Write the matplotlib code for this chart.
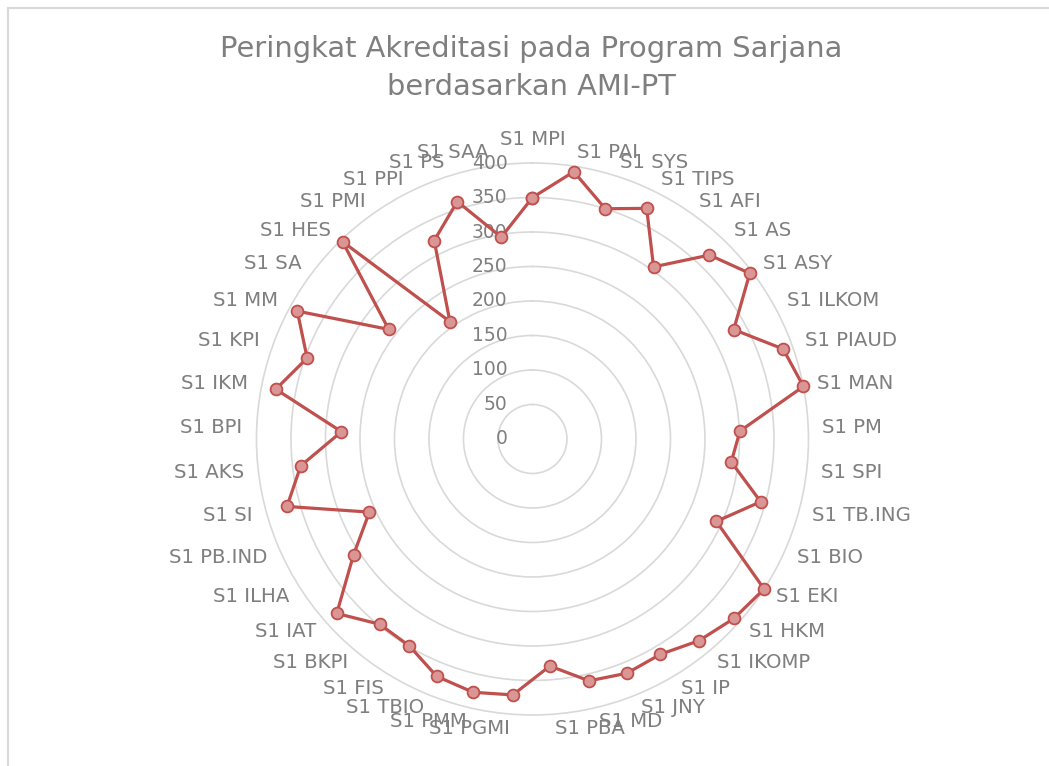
import numpy as np
import matplotlib
matplotlib.use("Agg")
import matplotlib.pyplot as plt
from matplotlib.transforms import offset_copy
from matplotlib.lines import Line2D

# kategori (searah jarum jam mulai dari atas)
prodi = ["S1 MPI", "S1 PAI", "S1 SYS", "S1 TIPS", "S1 AFI", "S1 AS", "S1 ASY",
         "S1 ILKOM", "S1 PIAUD", "S1 MAN", "S1 PM", "S1 SPI", "S1 TB.ING", "S1 BIO",
         "S1 EKI", "S1 HKM", "S1 IKOMP", "S1 IP", "S1 JNY", "S1 MD", "S1 PBA",
         "S1 PGMI", "S1 PMM", "S1 TBIO", "S1 FIS", "S1 BKPI", "S1 IAT", "S1 ILHA",
         "S1 PB.IND", "S1 SI", "S1 AKS", "S1 BPI", "S1 IKM", "S1 KPI", "S1 MM",
         "S1 SA", "S1 HES", "S1 PMI", "S1 PPI", "S1 PS", "S1 SAA"]

nilai = [350, 392, 350, 373, 305, 370, 396, 332, 386, 400, 301, 290, 343, 292,
         400, 391, 379, 363, 366, 360, 330, 372, 377, 371, 349, 348, 380, 309,
         259, 369, 338, 277, 379, 347, 388, 262, 397, 208, 321, 361, 296]

skala = [0, 50, 100, 150, 200, 250, 300, 350, 400]

judul = "Peringkat Akreditasi pada Program Sarjana\nberdasarkan AMI-PT"

abu = "#7f7f7f"
merah = "#c0504d"

fig = plt.figure(figsize=(10.49, 7.66), dpi=100)
ax = fig.add_axes([0.2445, 0.0666, 0.5262, 0.7206], projection="polar")
ax.set_theta_zero_location("N")
ax.set_theta_direction(-1)

n = len(prodi)
sudut = np.linspace(0, 2 * np.pi, n, endpoint=False)

ax.set_ylim(0, 400)
ax.set_yticks(skala)
ax.set_yticklabels([])
ax.set_xticks([])
ax.yaxis.grid(True, color="#d9d9d9", lw=1.2)
for g in ax.yaxis.get_gridlines():
    g.set_clip_on(False)
ax.xaxis.grid(False)
ax.spines["polar"].set_visible(False)

# garis data (ditutup kembali ke titik awal)
th = np.append(sudut, sudut[0])
r = np.append(nilai, nilai[0])
ax.plot(th, r, color=merah, lw=2.3, marker="o", ms=8.5,
        mfc="#d99694", mec=merah, mew=1.3, zorder=5, clip_on=False)

# label skala di sebelah kiri sumbu atas
for v in skala:
    tr = offset_copy(ax.transData, fig=fig, x=-25, y=0, units="dots")
    ax.text(0, v, str(v), transform=tr, ha="right", va="center",
            fontsize=13.5, color=abu, zorder=2)

# label kategori di luar lingkaran
jarak = 14
for a, lab in zip(sudut, prodi):
    dx = jarak * np.sin(a)
    dy = jarak * np.cos(a)
    tr = offset_copy(ax.transData, fig=fig, x=dx, y=dy, units="dots")
    if np.isclose(a, 0):
        ha, va = "center", "bottom"
    elif a < np.pi:
        ha, va = "left", "center"
    else:
        ha, va = "right", "center"
    ax.text(a, 400, lab, transform=tr, ha=ha, va=va, fontsize=14.2,
            color=abu, clip_on=False)

fig.text(531.5 / 1049, 1 - 68 / 766, judul, ha="center", va="center",
         fontsize=20.8, color=abu, linespacing=1.45)

# bingkai area grafik (sebagian terlihat)
fig.add_artist(Line2D([7.5 / 1049, 7.5 / 1049], [0, 1 - 7.5 / 766],
                      transform=fig.transFigure, color="#d9d9d9", lw=1.5))
fig.add_artist(Line2D([7.5 / 1049, 1], [1 - 7.5 / 766, 1 - 7.5 / 766],
                      transform=fig.transFigure, color="#d9d9d9", lw=1.5))

fig.savefig("out.png", dpi=100)
